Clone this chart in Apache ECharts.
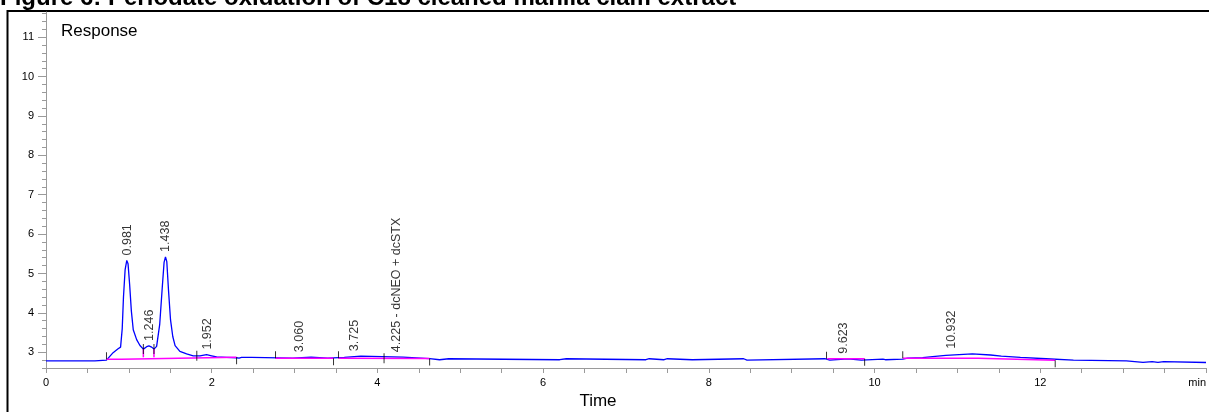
<!DOCTYPE html>
<html>
<head>
<meta charset="utf-8">
<script src="https://cdn.jsdelivr.net/npm/echarts@6/dist/echarts.min.js"></script>
<style>
  html, body { margin: 0; padding: 0; background: #fff; }
  #chart { width: 1209px; height: 412px; }
</style>
</head>
<body>
<div id="chart"></div>
<script>
// Chromatogram: periodate oxidation, C18-cleaned manila clam extract
const titleText = 'Figure 6: Periodate oxidation of C18 cleaned manila clam extract';
const yName = 'Response';
const xName = 'Time';
const xUnit = 'min';

// Axis tick labels
const xLabels = [0, 2, 4, 6, 8, 10, 12];
const yLabels = [3, 4, 5, 6, 7, 8, 9, 10, 11];

// Detector trace: [time (min), response]
const signal = [
  [0.00, 2.78], [0.17, 2.78], [0.18, 2.80], [0.20, 2.78], [0.38, 2.78], [0.39, 2.80], [0.41, 2.78],
  [0.59, 2.78], [0.60, 2.80], [0.73, 2.80], [0.74, 2.83], [0.81, 2.99], [0.87, 3.09], [0.90, 3.13],
  [0.92, 3.60], [0.935, 4.40], [0.955, 5.10], [0.975, 5.33], [0.99, 5.25], [1.01, 4.70], [1.03, 4.05],
  [1.053, 3.57], [1.094, 3.32], [1.134, 3.17], [1.175, 3.08], [1.215, 3.14], [1.242, 3.16], [1.275, 3.13],
  [1.303, 3.08], [1.335, 3.15], [1.372, 3.70], [1.405, 4.70], [1.425, 5.28], [1.442, 5.42], [1.458, 5.30],
  [1.478, 4.59], [1.503, 3.82], [1.53, 3.40], [1.558, 3.17], [1.616, 3.02], [1.697, 2.96], [1.777, 2.91],
  [1.858, 2.91], [1.938, 2.94], [1.999, 2.91], [2.059, 2.88], [2.18, 2.87], [2.30, 2.86], [2.33, 2.85],
  [2.36, 2.87], [2.48, 2.87], [2.50, 2.85], [2.98, 2.85], [3.00, 2.875], [3.20, 2.875], [3.22, 2.85],
  [3.40, 2.85], [3.42, 2.87], [3.60, 2.87], [3.62, 2.90], [3.80, 2.90], [3.82, 2.875], [4.31, 2.875],
  [4.33, 2.84], [4.63, 2.84], [4.64, 2.81], [4.75, 2.81], [4.77, 2.835], [4.86, 2.835], [4.88, 2.81],
  [6.20, 2.81], [6.21, 2.835], [6.28, 2.835], [6.29, 2.81], [7.24, 2.81], [7.25, 2.835], [7.28, 2.835],
  [7.29, 2.81], [7.46, 2.81], [7.47, 2.835], [7.50, 2.835], [7.51, 2.81], [7.80, 2.81], [7.81, 2.835],
  [8.42, 2.835], [8.43, 2.80], [8.46, 2.80], [8.47, 2.835], [9.40, 2.835], [9.42, 2.80], [9.46, 2.80],
  [9.47, 2.835], [9.68, 2.835], [9.69, 2.80], [9.84, 2.80], [9.85, 2.825], [10.10, 2.825], [10.11, 2.81],
  [10.13, 2.81], [10.14, 2.825], [10.34, 2.825], [10.40, 2.85], [10.41, 2.865], [10.58, 2.865],
  [10.60, 2.89], [10.70, 2.89], [10.72, 2.92], [10.86, 2.92], [10.88, 2.96], [11.18, 2.96], [11.20, 2.93],
  [11.40, 2.93], [11.42, 2.90], [11.53, 2.90], [11.55, 2.87], [11.76, 2.87], [11.78, 2.835], [12.07, 2.835],
  [12.09, 2.80], [12.40, 2.80], [12.42, 2.78], [13.04, 2.78], [13.05, 2.745], [13.24, 2.745], [13.25, 2.76],
  [13.35, 2.76], [13.36, 2.745], [13.42, 2.745], [13.43, 2.76], [13.49, 2.76], [13.50, 2.74], [14.00, 2.74]
];

// Integration baselines and peak drop lines (null breaks the line)
const baseline = [
  [0.73, 2.82], [0.91, 2.82], [0.92, 2.87], [2.30, 2.87], null,
  [1.175, 2.87], [1.175, 3.08], null,
  [1.303, 2.87], [1.303, 3.08], null,
  [2.77, 2.845], [3.47, 2.845], null,
  [3.53, 2.845], [4.63, 2.84], null,
  [9.43, 2.835], [9.88, 2.835], null,
  [10.34, 2.845], [11.25, 2.845], [11.27, 2.795], [12.18, 2.795]
];

// Integration event markers
const eventTimes  = [0.73, 1.175, 1.303, 1.82, 2.30, 2.77, 3.47, 3.53, 4.08, 4.63, 9.42, 9.88, 10.34, 12.18];
const eventValues = [2.82, 3.08, 3.08, 2.91, 2.87, 2.845, 2.845, 2.845, 2.845, 2.84, 2.835, 2.835, 2.845, 2.795];
const eventSides  = ['up', 'both', 'both', 'both', 'down', 'up', 'down', 'up', 'both', 'down', 'up', 'down', 'up', 'down'];

// Peak annotations: retention time, apex response, label text
const peakTimes   = [0.981, 1.246, 1.438, 1.952, 3.060, 3.725, 4.225, 9.623, 10.932];
const peakHeights = [5.33, 3.16, 5.42, 2.94, 2.875, 2.90, 2.875, 2.835, 2.96];
const peakNames   = ['0.981', '1.246', '1.438', '1.952', '3.060', '3.725', '4.225 - dcNEO + dcSTX', '9.623', '10.932'];

const Y_MIN = 2.6, Y_MAX = 11.64, X_MIN = 0, X_MAX = 14;
const AXIS_GREY = '#9a9a9a';

const minorY = [];
for (let k = 0; Y_MIN + k * 0.2 <= Y_MAX + 1e-9; k++) minorY.push(+(Y_MIN + k * 0.2).toFixed(2));

const chart = echarts.init(document.getElementById('chart'), null, { renderer: 'canvas' });

const eventData = eventTimes.map((t, i) => {
  const side = eventSides[i];
  return {
    value: [t, eventValues[i]],
    symbolSize: side === 'both' ? [1, 10] : [1, 7],
    symbolOffset: side === 'up' ? [0, -3.5] : side === 'down' ? [0, 3.5] : [0, 0]
  };
});

const peakData = peakTimes.map((t, i) => ({ value: [t, peakHeights[i]], name: peakNames[i] }));

chart.setOption({
  animation: false,
  backgroundColor: '#fff',
  grid: { left: 46, right: 3, top: 12, bottom: 44, containLabel: false },
  xAxis: {
    type: 'value', min: X_MIN, max: X_MAX, interval: 0.5,
    axisLine: { show: true, lineStyle: { color: AXIS_GREY, width: 1 } },
    axisTick: { show: true, length: 5, lineStyle: { color: AXIS_GREY } },
    splitLine: { show: false },
    axisLabel: {
      color: '#000', fontSize: 11, fontFamily: 'Arial, Liberation Sans', margin: 9,
      showMaxLabel: true, alignMaxLabel: 'right',
      formatter: v => {
        if (Math.abs(v - X_MAX) < 1e-6) return xUnit;
        const r = Math.round(v);
        return (Math.abs(v - r) < 1e-6 && xLabels.includes(r)) ? String(r) : '';
      }
    }
  },
  yAxis: [
    {
      type: 'value', min: Y_MIN, max: Y_MAX, position: 'left',
      axisLine: { show: true, lineStyle: { color: AXIS_GREY, width: 1 } },
      axisTick: { show: true, length: 8, customValues: yLabels, lineStyle: { color: AXIS_GREY } },
      axisLabel: { customValues: yLabels, color: '#000', fontSize: 11, fontFamily: 'Arial, Liberation Sans', margin: 12 },
      splitLine: { show: false }
    },
    {
      type: 'value', min: Y_MIN, max: Y_MAX, position: 'left',
      axisLine: { show: false },
      axisTick: { show: true, length: 4, customValues: minorY, lineStyle: { color: AXIS_GREY } },
      axisLabel: { show: false },
      splitLine: { show: false }
    }
  ],
  graphic: [
    {
      type: 'text', x: 0, y: 10,
      style: { text: titleText, font: 'bold 24px Arial, Liberation Sans', fill: '#000', verticalAlign: 'bottom' }
    },
    {
      type: 'rect', shape: { x: 7.5, y: 11, width: 1240, height: 440 },
      style: { fill: 'none', stroke: '#000', lineWidth: 2 }
    },
    {
      type: 'text', x: 61, y: 31,
      style: { text: yName, font: '17px Arial, Liberation Sans', fill: '#000', verticalAlign: 'middle' }
    },
    {
      type: 'text', x: 598, y: 401,
      style: { text: xName, font: '17px Arial, Liberation Sans', fill: '#000', align: 'center', verticalAlign: 'middle' }
    }
  ],
  series: [
    {
      type: 'line', data: signal, symbol: 'none', smooth: false,
      lineStyle: { color: '#0000ff', width: 1.3 }, z: 2
    },
    {
      type: 'line', data: baseline, symbol: 'none', smooth: false, connectNulls: false,
      lineStyle: { color: '#ff00ff', width: 1.5 }, z: 3
    },
    {
      type: 'scatter', data: eventData, symbol: 'rect',
      itemStyle: { color: '#000' }, z: 4, silent: true
    },
    {
      type: 'scatter', data: peakData, symbolSize: 0, z: 5, silent: true,
      label: {
        show: true, position: 'top', distance: 5, rotate: 90,
        align: 'left', verticalAlign: 'middle',
        formatter: p => p.name,
        color: '#000', fontSize: 12.5, fontFamily: 'Arial, Liberation Sans'
      }
    }
  ]
});
</script>
</body>
</html>
